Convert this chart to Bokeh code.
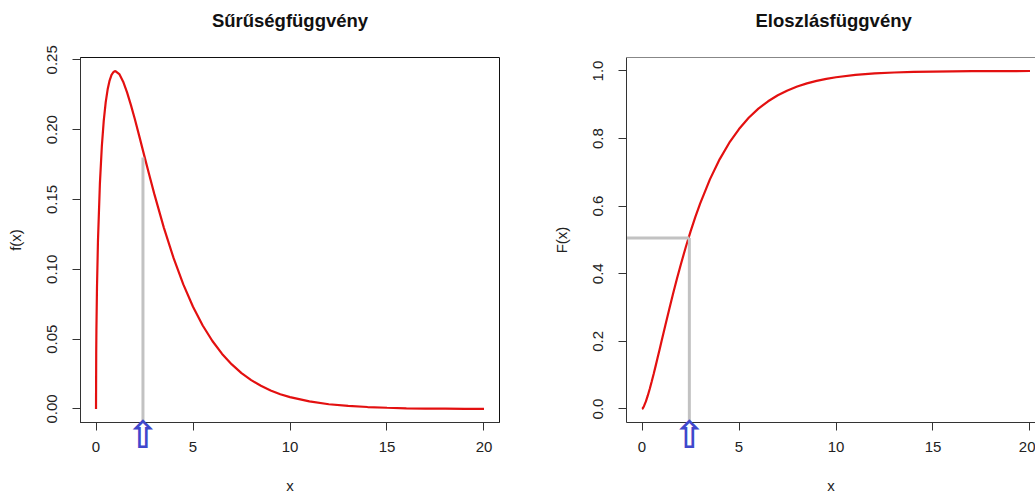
from bokeh.plotting import figure
from bokeh.layouts import row
from bokeh.models import FixedTicker, PrintfTickFormatter, Range1d, Span, Title
from bokeh.embed import file_html
from bokeh.resources import INLINE

# Chi-square (3 df) density and distribution function, sampled on a grid
x_vals = [0, 0.01, 0.02, 0.05, 0.1, 0.2, 0.3, 0.4, 0.5, 0.6, 0.7, 0.8, 0.9, 1.0,
          1.2, 1.4, 1.6, 1.8, 2.0, 2.25, 2.5, 2.75, 3.0,
          3.5, 4.0, 4.5, 5.0, 5.5, 6.0, 6.5, 7.0, 7.5, 8.0, 8.5, 9.0, 9.5, 10,
          11, 12, 13, 14, 15, 16, 17, 18, 19, 20]
density = [0, 0.0397, 0.0559, 0.0870, 0.1200, 0.1614, 0.1881, 0.2066, 0.2197, 0.2289,
           0.2352, 0.2392, 0.2413, 0.2420,
           0.2398, 0.2344, 0.2267, 0.2176, 0.2076, 0.1943, 0.1807, 0.1673, 0.1542,
           0.1297, 0.1080, 0.0892, 0.0732, 0.0598, 0.0487, 0.0394, 0.0319, 0.0257,
           0.0207, 0.0166, 0.0133, 0.0106, 0.0085,
           0.0054, 0.0034, 0.0022, 0.0014, 0.0009, 0.0005, 0.0003, 0.0002, 0.0001, 0.0001]
cumulative = [0, 0.0003, 0.0007, 0.0029, 0.0082, 0.0224, 0.0400, 0.0598, 0.0811, 0.1036,
              0.1268, 0.1505, 0.1746, 0.1987,
              0.2470, 0.2945, 0.3406, 0.3851, 0.4276, 0.4778, 0.5247, 0.5682, 0.6084,
              0.6792, 0.7385, 0.7877, 0.8282, 0.8614, 0.8884, 0.9103, 0.9281, 0.9424,
              0.9540, 0.9633, 0.9707, 0.9767, 0.9814,
              0.9883, 0.9926, 0.9954, 0.9971, 0.9982, 0.9989, 0.9993, 0.9996, 0.9997, 0.9998]

x_ticks = [0, 5, 10, 15, 20]
pdf_ticks = [0.00, 0.05, 0.10, 0.15, 0.20, 0.25]
cdf_ticks = [0.0, 0.2, 0.4, 0.6, 0.8, 1.0]

# marked quantile (median) and the guide-line levels
mark_x_pdf = 2.42
mark_level_pdf = 0.18
mark_x_cdf = 2.44
mark_level_cdf = 0.506

FONT = "Liberation Sans"
RED = "#e31010"
GUIDE = "#c2c2c2"
ARROW = "#3f48cc"

TOP = 57
FRAME_H = 365
ARROW_SIZE = 38          # px, font size of the hollow arrow
ARROW_W = 0.838 * ARROW_SIZE


def padded(lo, hi):
    d = (hi - lo) * 0.04
    return lo - d, hi + d


def make_fig(title, frame_w, border_left, border_right, x_range, y_range, ylabel,
             yticks, yfmt):
    p = figure(title=title, output_backend="svg", toolbar_location=None,
               frame_width=frame_w, frame_height=FRAME_H,
               min_border_left=border_left, min_border_right=border_right,
               min_border_top=TOP, min_border_bottom=73,
               x_range=Range1d(*x_range), y_range=Range1d(*y_range),
               background_fill_color="white", border_fill_color="white")
    p.grid.visible = False
    p.outline_line_color = "#111111"
    p.outline_line_width = 1

    # empty spacer between the frame and the title
    p.add_layout(Title(text=" ", text_font_size="1px", standoff=19), "above")

    p.title.align = "center"
    p.title.text_font = FONT
    p.title.text_font_style = "bold"
    p.title.text_font_size = "18.5px"
    p.title.text_color = "#111111"
    p.title.standoff = 10

    for ax in (p.xaxis[0], p.yaxis[0]):
        ax.axis_line_color = "#333333"
        ax.major_tick_line_color = "#333333"
        ax.major_tick_out = 8
        ax.major_tick_in = 0
        ax.minor_tick_line_color = None
        ax.major_label_text_font = FONT
        ax.major_label_text_font_size = "15px"
        ax.major_label_text_color = "#222222"
        ax.axis_label_text_font = FONT
        ax.axis_label_text_font_size = "15px"
        ax.axis_label_text_font_style = "normal"
        ax.axis_label_text_color = "#222222"

    p.xaxis.ticker = FixedTicker(ticks=x_ticks)
    p.xaxis.formatter = PrintfTickFormatter(format="%d")
    p.xaxis.axis_label = "x"
    p.xaxis.major_label_standoff = 11
    p.xaxis.axis_label_standoff = 22

    p.yaxis.ticker = FixedTicker(ticks=yticks)
    p.yaxis.formatter = PrintfTickFormatter(format=yfmt)
    p.yaxis.major_label_orientation = "vertical"
    p.yaxis.axis_label = ylabel
    p.yaxis.major_label_standoff = 15
    p.yaxis.axis_label_standoff = 21
    return p


def up_arrow(p, x_mark, frame_w, xr):
    # hollow upward arrow under the marked x value; a text annotation in the
    # lower side panel, pulled back up against the bottom edge of the frame
    scale = frame_w / (xr[1] - xr[0])
    left = (x_mark - xr[0]) * scale - ARROW_W / 2
    p.add_layout(Title(text="\u21e7", align="left", offset=left, vertical_align="top",
                       standoff=-167, text_font="DejaVu Sans",
                       text_font_size=f"{ARROW_SIZE}px", text_font_style="bold",
                       text_color=ARROW), "below")


x_rng = padded(min(x_vals), max(x_vals))

# density panel
pdf_rng = padded(min(density), max(density))
W1, L1 = 419, 80
p1 = make_fig("Sűrűségfüggvény", W1, L1, 21, x_rng, pdf_rng, "f(x)", pdf_ticks, "%.2f")
p1.line(x_vals, density, line_color=RED, line_width=2.2)
p1.segment(x0=[mark_x_pdf], y0=[pdf_rng[0]], x1=[mark_x_pdf], y1=[mark_level_pdf],
           line_color=GUIDE, line_width=3)
up_arrow(p1, mark_x_pdf, W1, x_rng)

# distribution panel (frame runs to the page edge)
cdf_rng = padded(min(cumulative), max(cumulative))
W2, L2 = 409, 106
scale = W1 / (x_rng[1] - x_rng[0])
x_rng2 = (x_rng[0], x_rng[0] + W2 / scale)
p2 = make_fig("Eloszlásfüggvény", W2, L2, 0, x_rng2, cdf_rng, "F(x)", cdf_ticks, "%.1f")
p2.title.align = "left"
p2.title.offset = 129
p2.outline_line_color = None
p2.add_layout(Span(location=cdf_rng[1], dimension="width", line_color="#111111",
                   line_width=1))
p2.line(x_vals, cumulative, line_color=RED, line_width=2.2)
p2.segment(x0=[mark_x_cdf, x_rng2[0]], y0=[cdf_rng[0], mark_level_cdf],
           x1=[mark_x_cdf, mark_x_cdf], y1=[mark_level_cdf, mark_level_cdf],
           line_color=GUIDE, line_width=3)
up_arrow(p2, mark_x_cdf, W2, x_rng2)

layout = row(p1, p2)
open("out.html", "w").write(file_html(layout, INLINE))
